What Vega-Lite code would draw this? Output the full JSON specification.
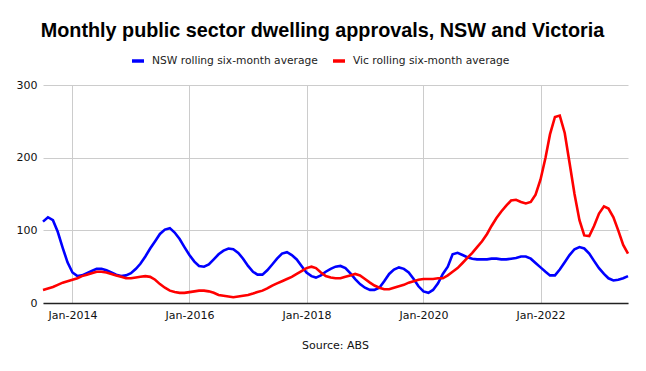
{
  "$schema": "https://vega.github.io/schema/vega-lite/v6.json",
  "width": 585,
  "height": 218,
  "autosize": {"type": "none"},
  "padding": {"left": 43, "top": 85, "right": 18, "bottom": 68},
  "background": "white",
  "title": {
    "text": "Monthly public sector dwelling approvals, NSW and Victoria",
    "font": "Liberation Sans",
    "fontSize": 19.8,
    "fontWeight": "bold",
    "color": "black",
    "anchor": "middle",
    "dx": -13,
    "offset": 12
  },
  "config": {
    "view": {"stroke": null},
    "axis": {"gridColor": "#cccccc", "gridWidth": 1, "labelFont": "DejaVu Sans", "labelFontSize": 11, "labelColor": "#111111"}
  },
  "data": {
    "values": [
      {"date": "2013-07-01", "NSW": 112, "Vic": 18},
      {"date": "2013-08-01", "NSW": 118, "Vic": 20},
      {"date": "2013-09-01", "NSW": 114, "Vic": 22},
      {"date": "2013-10-01", "NSW": 98, "Vic": 25},
      {"date": "2013-11-01", "NSW": 76, "Vic": 28},
      {"date": "2013-12-01", "NSW": 56, "Vic": 30},
      {"date": "2014-01-01", "NSW": 42, "Vic": 32},
      {"date": "2014-02-01", "NSW": 37, "Vic": 34},
      {"date": "2014-03-01", "NSW": 38, "Vic": 37},
      {"date": "2014-04-01", "NSW": 41, "Vic": 39},
      {"date": "2014-05-01", "NSW": 44, "Vic": 41},
      {"date": "2014-06-01", "NSW": 47, "Vic": 43},
      {"date": "2014-07-01", "NSW": 47, "Vic": 43},
      {"date": "2014-08-01", "NSW": 45, "Vic": 42},
      {"date": "2014-09-01", "NSW": 42, "Vic": 40},
      {"date": "2014-10-01", "NSW": 39, "Vic": 38},
      {"date": "2014-11-01", "NSW": 37, "Vic": 36},
      {"date": "2014-12-01", "NSW": 38, "Vic": 34},
      {"date": "2015-01-01", "NSW": 41, "Vic": 34},
      {"date": "2015-02-01", "NSW": 47, "Vic": 35},
      {"date": "2015-03-01", "NSW": 54, "Vic": 36},
      {"date": "2015-04-01", "NSW": 64, "Vic": 37},
      {"date": "2015-05-01", "NSW": 75, "Vic": 36},
      {"date": "2015-06-01", "NSW": 85, "Vic": 32},
      {"date": "2015-07-01", "NSW": 95, "Vic": 26},
      {"date": "2015-08-01", "NSW": 101, "Vic": 21},
      {"date": "2015-09-01", "NSW": 103, "Vic": 17},
      {"date": "2015-10-01", "NSW": 97, "Vic": 15},
      {"date": "2015-11-01", "NSW": 88, "Vic": 14},
      {"date": "2015-12-01", "NSW": 77, "Vic": 14},
      {"date": "2016-01-01", "NSW": 66, "Vic": 15},
      {"date": "2016-02-01", "NSW": 57, "Vic": 16},
      {"date": "2016-03-01", "NSW": 51, "Vic": 17},
      {"date": "2016-04-01", "NSW": 50, "Vic": 17},
      {"date": "2016-05-01", "NSW": 53, "Vic": 16},
      {"date": "2016-06-01", "NSW": 60, "Vic": 14},
      {"date": "2016-07-01", "NSW": 67, "Vic": 11},
      {"date": "2016-08-01", "NSW": 72, "Vic": 10},
      {"date": "2016-09-01", "NSW": 75, "Vic": 9},
      {"date": "2016-10-01", "NSW": 74, "Vic": 8},
      {"date": "2016-11-01", "NSW": 69, "Vic": 9},
      {"date": "2016-12-01", "NSW": 61, "Vic": 10},
      {"date": "2017-01-01", "NSW": 51, "Vic": 11},
      {"date": "2017-02-01", "NSW": 43, "Vic": 13},
      {"date": "2017-03-01", "NSW": 39, "Vic": 15},
      {"date": "2017-04-01", "NSW": 39, "Vic": 17},
      {"date": "2017-05-01", "NSW": 45, "Vic": 20},
      {"date": "2017-06-01", "NSW": 53, "Vic": 24},
      {"date": "2017-07-01", "NSW": 61, "Vic": 27},
      {"date": "2017-08-01", "NSW": 68, "Vic": 30},
      {"date": "2017-09-01", "NSW": 70, "Vic": 33},
      {"date": "2017-10-01", "NSW": 66, "Vic": 36},
      {"date": "2017-11-01", "NSW": 60, "Vic": 40},
      {"date": "2017-12-01", "NSW": 51, "Vic": 44},
      {"date": "2018-01-01", "NSW": 42, "Vic": 48},
      {"date": "2018-02-01", "NSW": 37, "Vic": 50},
      {"date": "2018-03-01", "NSW": 35, "Vic": 48},
      {"date": "2018-04-01", "NSW": 38, "Vic": 42},
      {"date": "2018-05-01", "NSW": 43, "Vic": 37},
      {"date": "2018-06-01", "NSW": 47, "Vic": 35},
      {"date": "2018-07-01", "NSW": 50, "Vic": 34},
      {"date": "2018-08-01", "NSW": 51, "Vic": 34},
      {"date": "2018-09-01", "NSW": 48, "Vic": 36},
      {"date": "2018-10-01", "NSW": 41, "Vic": 38},
      {"date": "2018-11-01", "NSW": 33, "Vic": 40},
      {"date": "2018-12-01", "NSW": 26, "Vic": 38},
      {"date": "2019-01-01", "NSW": 21, "Vic": 33},
      {"date": "2019-02-01", "NSW": 18, "Vic": 28},
      {"date": "2019-03-01", "NSW": 18, "Vic": 24},
      {"date": "2019-04-01", "NSW": 21, "Vic": 21},
      {"date": "2019-05-01", "NSW": 30, "Vic": 19},
      {"date": "2019-06-01", "NSW": 40, "Vic": 19},
      {"date": "2019-07-01", "NSW": 46, "Vic": 21},
      {"date": "2019-08-01", "NSW": 49, "Vic": 23},
      {"date": "2019-09-01", "NSW": 47, "Vic": 25},
      {"date": "2019-10-01", "NSW": 42, "Vic": 28},
      {"date": "2019-11-01", "NSW": 33, "Vic": 30},
      {"date": "2019-12-01", "NSW": 23, "Vic": 32},
      {"date": "2020-01-01", "NSW": 16, "Vic": 33},
      {"date": "2020-02-01", "NSW": 14, "Vic": 33},
      {"date": "2020-03-01", "NSW": 18, "Vic": 33},
      {"date": "2020-04-01", "NSW": 27, "Vic": 34},
      {"date": "2020-05-01", "NSW": 40, "Vic": 34},
      {"date": "2020-06-01", "NSW": 50, "Vic": 38},
      {"date": "2020-07-01", "NSW": 67, "Vic": 43},
      {"date": "2020-08-01", "NSW": 69, "Vic": 48},
      {"date": "2020-09-01", "NSW": 66, "Vic": 55},
      {"date": "2020-10-01", "NSW": 63, "Vic": 62},
      {"date": "2020-11-01", "NSW": 61, "Vic": 69},
      {"date": "2020-12-01", "NSW": 60, "Vic": 77},
      {"date": "2021-01-01", "NSW": 60, "Vic": 85},
      {"date": "2021-02-01", "NSW": 60, "Vic": 95},
      {"date": "2021-03-01", "NSW": 61, "Vic": 106},
      {"date": "2021-04-01", "NSW": 61, "Vic": 117},
      {"date": "2021-05-01", "NSW": 60, "Vic": 126},
      {"date": "2021-06-01", "NSW": 60, "Vic": 134},
      {"date": "2021-07-01", "NSW": 61, "Vic": 141},
      {"date": "2021-08-01", "NSW": 62, "Vic": 142},
      {"date": "2021-09-01", "NSW": 64, "Vic": 139},
      {"date": "2021-10-01", "NSW": 64, "Vic": 137},
      {"date": "2021-11-01", "NSW": 61, "Vic": 139},
      {"date": "2021-12-01", "NSW": 55, "Vic": 149},
      {"date": "2022-01-01", "NSW": 49, "Vic": 170},
      {"date": "2022-02-01", "NSW": 43, "Vic": 200},
      {"date": "2022-03-01", "NSW": 38, "Vic": 232},
      {"date": "2022-04-01", "NSW": 38, "Vic": 256},
      {"date": "2022-05-01", "NSW": 46, "Vic": 258},
      {"date": "2022-06-01", "NSW": 56, "Vic": 234},
      {"date": "2022-07-01", "NSW": 66, "Vic": 193},
      {"date": "2022-08-01", "NSW": 74, "Vic": 150},
      {"date": "2022-09-01", "NSW": 77, "Vic": 114},
      {"date": "2022-10-01", "NSW": 75, "Vic": 93},
      {"date": "2022-11-01", "NSW": 68, "Vic": 92},
      {"date": "2022-12-01", "NSW": 58, "Vic": 106},
      {"date": "2023-01-01", "NSW": 48, "Vic": 123},
      {"date": "2023-02-01", "NSW": 40, "Vic": 133},
      {"date": "2023-03-01", "NSW": 34, "Vic": 130},
      {"date": "2023-04-01", "NSW": 31, "Vic": 118},
      {"date": "2023-05-01", "NSW": 32, "Vic": 100},
      {"date": "2023-06-01", "NSW": 34, "Vic": 80},
      {"date": "2023-07-01", "NSW": 37, "Vic": 68}
    ]
  },
  "transform": [{"fold": ["NSW", "Vic"], "as": ["series", "value"]}],
  "mark": {"type": "line", "strokeWidth": 2.6, "interpolate": "linear"},
  "encoding": {
    "x": {
      "field": "date",
      "type": "temporal",
      "scale": {"type": "utc", "domain": [{"year": 2013, "month": 7, "date": 1, "utc": true}, {"year": 2023, "month": 7, "date": 1, "utc": true}], "nice": false},
      "axis": {
        "values": [
          {"year": 2014, "month": 1, "date": 1, "utc": true},
          {"year": 2016, "month": 1, "date": 1, "utc": true},
          {"year": 2018, "month": 1, "date": 1, "utc": true},
          {"year": 2020, "month": 1, "date": 1, "utc": true},
          {"year": 2022, "month": 1, "date": 1, "utc": true}
        ],
        "labelExpr": "utcFormat(datum.value, '%b-%Y')",
        "ticks": false,
        "labelPadding": 6,
        "domainColor": "#222222",
        "domainWidth": 1.5,
        "title": "Source: ABS",
        "titleFont": "DejaVu Sans",
        "titleFontSize": 11,
        "titleFontWeight": "normal",
        "titleColor": "#111111",
        "titleX": 292,
        "titleY": 42,
        "titleAlign": "center",
        "titleBaseline": "middle",
        "titleAnchor": null
      }
    },
    "y": {
      "field": "value",
      "type": "quantitative",
      "scale": {"domain": [0, 300], "nice": false},
      "axis": {
        "values": [0, 100, 200, 300],
        "domain": false,
        "ticks": false,
        "labelPadding": 6,
        "title": null
      }
    },
    "color": {
      "field": "series",
      "type": "nominal",
      "scale": {"domain": ["NSW", "Vic"], "range": ["#0000ff", "#ff0000"]},
      "legend": {
        "orient": "none",
        "legendX": 87,
        "legendY": -32,
        "direction": "horizontal",
        "title": null,
        "symbolType": "stroke",
        "symbolStrokeWidth": 3.5,
        "symbolSize": 144,
        "labelFont": "DejaVu Sans",
        "labelFontSize": 10.7,
        "labelColor": "#222222",
        "labelLimit": 0,
        "labelOffset": 6,
        "columnPadding": 8,
        "labelExpr": "datum.label == 'NSW' ? 'NSW rolling six-month average' : 'Vic rolling six-month average'"
      }
    }
  }
}
